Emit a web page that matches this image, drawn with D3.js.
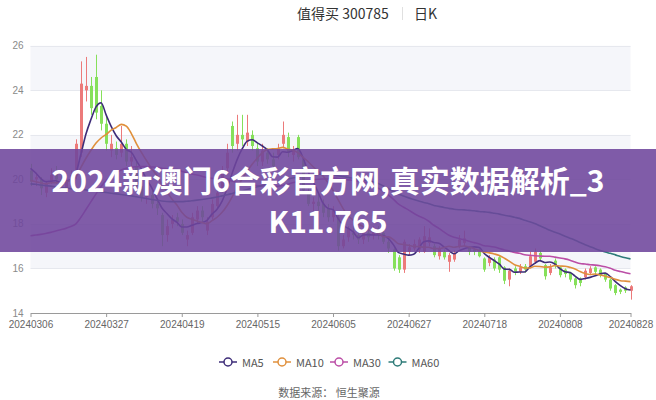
<!DOCTYPE html>
<html><head><meta charset="utf-8">
<script src="https://cdn.jsdelivr.net/npm/d3@7/dist/d3.min.js"></script>
<style>
html,body{margin:0;padding:0;background:#fff;}
svg{display:block;font-family:"Noto Sans CJK SC","Noto Sans",sans-serif;}
</style></head><body>
<svg id="chart" width="656" height="400"></svg>
<script>
const dates = ["20240306","20240307","20240308","20240311","20240312","20240313","20240314","20240315","20240318","20240319","20240320","20240321","20240322","20240325","20240326","20240327","20240328","20240329","20240401","20240402","20240403","20240408","20240409","20240410","20240411","20240412","20240415","20240416","20240417","20240418","20240419","20240422","20240423","20240424","20240425","20240426","20240429","20240430","20240506","20240507","20240508","20240509","20240510","20240513","20240514","20240515","20240516","20240517","20240520","20240521","20240522","20240523","20240524","20240527","20240528","20240529","20240530","20240531","20240603","20240604","20240605","20240606","20240607","20240611","20240612","20240613","20240614","20240617","20240618","20240619","20240620","20240621","20240624","20240625","20240626","20240627","20240628","20240701","20240702","20240703","20240704","20240705","20240708","20240709","20240710","20240711","20240712","20240715","20240716","20240717","20240718","20240719","20240722","20240723","20240724","20240725","20240726","20240729","20240730","20240731","20240801","20240802","20240805","20240806","20240807","20240808","20240809","20240812","20240813","20240814","20240815","20240816","20240819","20240820","20240821","20240822","20240823","20240826","20240827","20240828"];
const xTicks = ["20240306","20240327","20240419","20240515","20240605","20240627","20240718","20240808","20240828"];
const yTicks = [14,16,18,20,22,24,26];

const open = [20.4,20.0,20.0,19.4,19.9,20.3,20.0,19.6,19.9,20.2, 21.2,24.0,24.2,24.6,23.3,22.5,21.3,21.4,21.2,21.6, 20.8,20.6,19.7,19.2,19.3,18.9,18.4,17.5,18.0,18.3, 18.0,17.3,17.6,18.2,18.6,17.7,18.3,18.8,19.6,20.5, 22.4,21.6,22.0,21.7,22.0,21.4,20.8,21.2,20.9,21.1, 21.6,21.9,21.1,21.9,20.9,19.4,18.9,19.0,18.9,18.7, 18.3,18.3,17.0,17.4,17.6,17.5,17.3,17.6,17.5,17.8, 17.6,17.2,16.85,16.5,15.95,16.75,16.9,16.85,16.75,17.15, 17.0,16.55,16.75,16.3,16.4,17.0,17.15,16.95,16.85,16.85, 16.45,16.25,16.4,16.5,16.05,15.5,16.0,15.85,16.1,16.1, 16.3,16.7,16.15,15.8,16.35,16.05,15.95,15.8,15.55,15.55, 15.6,15.8,16.05,15.95,15.75,15.5,15.25,15.05,15.15,15.0];
const close = [19.9,20.1,19.6,19.8,20.2,20.0,19.7,19.9,20.2,21.6, 24.3,24.2,23.2,23.0,22.5,21.6,21.6,21.1,21.6,20.8, 21.0,19.7,19.2,19.4,18.9,18.7,17.5,17.9,18.2,18.1, 17.6,17.5,18.3,18.6,18.3,18.1,18.9,19.4,20.4,21.2, 21.5,22.0,21.8,22.1,21.5,20.8,21.3,20.9,20.6,21.4, 22.0,21.2,21.3,21.0,19.5,18.9,19.0,18.8,18.5,18.3, 18.6,17.0,17.3,17.8,17.5,17.3,17.6,17.4,17.7,17.5, 17.2,16.9,16.0,15.95,17.2,16.95,17.1,17.3,17.45,17.4, 16.6,16.9,16.5,16.6,16.7,17.3,17.35,16.75,16.75,16.55, 15.95,16.5,16.0,15.95,15.45,15.9,15.85,16.05,15.95,16.55, 16.75,16.45,15.65,16.05,16.1,15.7,15.75,15.5,15.25,15.35, 15.9,16.0,15.85,15.7,15.5,15.1,14.9,14.95,15.0,15.2];
const high = [20.7,20.3,20.1,19.9,20.5,20.6,20.2,20.1,20.4,21.8, 25.3,25.5,24.6,25.6,24.0,22.8,22.0,21.7,22.4,21.8, 21.5,20.8,19.9,19.7,19.5,19.1,18.5,18.2,18.4,18.5, 18.2,17.7,18.5,18.8,18.8,18.3,19.1,19.6,20.6,21.6, 22.6,22.9,22.9,22.9,22.2,21.6,21.6,21.4,21.2,21.6, 22.6,22.1,21.5,22.0,21.0,19.6,19.2,19.3,19.1,18.9, 18.8,18.4,17.5,17.9,17.9,17.7,17.8,17.8,17.9,17.9, 17.7,17.3,16.9,16.6,17.3,17.1,17.3,17.4,17.9,17.8, 17.1,17.0,16.85,16.7,16.8,17.5,17.7,17.0,16.9,16.9, 16.5,16.6,16.5,16.55,16.1,16.0,16.1,16.2,16.2,16.75, 16.9,16.8,16.2,16.2,16.45,16.1,16.0,15.85,15.6,15.6, 16.0,16.1,16.1,16.0,15.8,15.55,15.3,15.1,15.2,15.25];
const low = [19.7,19.7,19.3,19.2,19.8,19.8,19.5,19.4,19.7,20.0, 21.0,23.5,22.9,22.7,22.2,21.3,21.0,20.9,21.0,20.6, 20.5,19.5,19.0,18.9,18.7,18.4,17.0,17.2,17.8,17.9, 17.5,17.0,17.5,18.0,18.1,17.5,18.2,18.7,19.4,20.3, 21.2,21.3,21.5,21.5,21.3,20.6,20.6,20.7,20.4,20.9, 21.4,21.0,20.8,20.9,19.4,18.8,18.5,18.6,18.3,18.1, 18.1,16.8,16.9,17.2,17.3,17.1,17.1,17.2,17.3,17.3, 17.1,16.7,15.9,15.8,15.8,16.6,16.8,16.7,16.7,17.0, 16.5,16.4,16.4,15.85,16.3,16.9,17.0,16.6,16.6,16.5, 15.85,16.1,15.9,15.8,15.3,15.2,15.7,15.75,15.8,16.0, 16.2,16.35,15.5,15.7,16.0,15.6,15.6,15.4,15.1,15.2, 15.5,15.7,15.7,15.6,15.4,15.0,14.8,14.85,14.9,14.6];

const ma5 = [20.5,20.3,20.05,19.9,19.92,19.94,19.86,19.92,20.0,20.28, 21.14,22.04,22.7,23.26,23.44,22.9,22.38,21.96,21.68,21.34, 21.22,20.84,20.46,20.02,19.64,19.18,18.74,18.48,18.24,18.08, 17.86,17.86,17.94,18.02,18.06,18.16,18.44,18.66,19.02,19.6, 20.28,20.9,21.38,21.72,21.78,21.64,21.5,21.32,21.02,21.0, 21.24,21.22,21.3,21.38,21.0,20.38,19.94,19.44,18.94,18.7, 18.64,18.24,17.94,17.8,17.64,17.38,17.5,17.52,17.5,17.5, 17.48,17.34,17.06,16.71,16.65,16.6,16.64,16.9,17.2,17.24, 17.17,17.13,16.97,16.8,16.66,16.8,16.89,16.94,16.97,16.94, 16.67,16.5,16.35,16.19,15.97,15.96,15.83,15.84,15.84,16.06, 16.23,16.35,16.27,16.29,16.2,15.99,15.85,15.82,15.66,15.51, 15.55,15.6,15.67,15.76,15.79,15.63,15.41,15.23,15.09,15.03];
const ma10 = [19.95,19.9,19.85,19.8,19.85,19.85,19.85,19.9,19.95,20.1, 20.54,20.95,21.31,21.63,21.86,22.02,22.21,22.33,22.47,22.39, 22.06,21.61,21.21,20.85,20.49,20.2,19.79,19.47,19.13,18.86, 18.52,18.3,18.21,18.13,18.07,18.01,18.15,18.3,18.52,18.83, 19.22,19.67,20.02,20.37,20.69,20.96,21.2,21.35,21.37,21.39, 21.44,21.36,21.31,21.2,21.0,20.81,20.58,20.37,20.16,19.85, 19.51,19.09,18.69,18.37,18.17,18.01,17.87,17.73,17.65,17.57, 17.43,17.42,17.29,17.11,17.08,17.04,16.99,16.98,16.96,16.95, 16.89,16.89,16.94,17.0,16.95,16.99,17.01,16.96,16.89,16.8, 16.74,16.7,16.65,16.58,16.46,16.32,16.17,16.1,16.02,16.02, 16.1,16.09,16.06,16.07,16.13,16.11,16.1,16.05,15.98,15.86, 15.77,15.73,15.75,15.71,15.65,15.59,15.51,15.45,15.43,15.41];
const ma30 = [17.47,17.5,17.53,17.57,17.62,17.68,17.74,17.8,17.88,18.0, 18.3,18.65,19.0,19.35,19.68,19.95,20.15,20.3,20.42,20.5, 20.55,20.57,20.58,20.58,20.56,20.54,20.5,20.48,20.46,20.45, 20.37,20.29,20.24,20.2,20.14,20.08,20.05,20.03,20.04,20.03, 19.93,19.86,19.81,19.78,19.75,19.72,19.71,19.71,19.67,19.69, 19.73,19.78,19.85,19.9,19.92,19.93,19.98,20.01,20.02,20.02, 20.06,20.04,20.01,19.98,19.95,19.93,19.88,19.82,19.73,19.6, 19.46,19.29,19.1,18.89,18.75,18.62,18.48,18.36,18.26,18.12, 17.94,17.8,17.64,17.49,17.4,17.35,17.29,17.22,17.16,17.1, 17.02,17.0,16.96,16.9,16.83,16.78,16.72,16.68,16.62,16.59, 16.57,16.56,16.55,16.55,16.51,16.47,16.43,16.37,16.29,16.22, 16.2,16.17,16.15,16.12,16.08,16.01,15.92,15.86,15.81,15.76];
const ma60 = [19.8,19.78,19.75,19.72,19.7,19.67,19.64,19.61,19.58,19.56, 19.55,19.53,19.5,19.47,19.44,19.41,19.38,19.35,19.32,19.29, 19.26,19.22,19.18,19.14,19.1,19.06,19.03,19.01,19.0,19.0, 19.0,19.02,19.04,19.07,19.1,19.13,19.17,19.21,19.26,19.31, 19.37,19.43,19.49,19.55,19.61,19.67,19.73,19.79,19.85,19.9, 19.96,20.01,20.06,20.1,20.14,20.17,20.2,20.22,20.24,20.24, 20.22,20.16,20.13,20.09,20.05,20.0,19.97,19.93,19.88,19.82, 19.7,19.58,19.46,19.34,19.25,19.17,19.1,19.03,18.96,18.91, 18.83,18.79,18.74,18.7,18.66,18.64,18.63,18.61,18.59,18.56, 18.54,18.52,18.48,18.44,18.39,18.35,18.3,18.25,18.17,18.1, 18.02,17.92,17.82,17.72,17.63,17.55,17.45,17.36,17.27,17.17, 17.07,16.98,16.89,16.81,16.74,16.68,16.61,16.54,16.48,16.43];

const maNames = ["MA5","MA10","MA30","MA60"];
const maSeries = [ma5, ma10, ma30, ma60];
const maColors = ["#3d2c78","#e0903c","#bb4ea6","#2e7b78"];
const titleName = "值得买 300785";
const titlePeriod = "日K";
const bannerLines = ["2024新澳门6合彩官方网,真实数据解析_3", "K11.765"];
const sourceText = "数据来源：  恒生聚源";

const upColor = "#ec7a7a", downColor = "#86e05a";
const axisFont = "'Liberation Sans', Arial, sans-serif";

const svg = d3.select("#chart");
const x = d3.scalePoint().domain(dates).range([30.5, 630.5]);
const y = d3.scaleLinear().domain([14, 26]).range([313, 45.8]);

// alternating bands
const bandPairs = d3.pairs(yTicks).filter((p, i) => i % 2 === 1);
svg.append("g").selectAll("rect").data(bandPairs).join("rect")
  .attr("x", 30.5).attr("width", 600)
  .attr("y", d => y(d[1])).attr("height", d => y(d[0]) - y(d[1]))
  .attr("fill", "#f5f6fa");

// grid lines
svg.append("g").selectAll("line").data(yTicks.slice(1)).join("line")
  .attr("x1", 30.5).attr("x2", 630.5)
  .attr("y1", d => Math.round(y(d)) + 0.5).attr("y2", d => Math.round(y(d)) + 0.5)
  .attr("stroke", "#e6e8ee").attr("stroke-width", 1);

// y axis labels
const yAxis = svg.append("g").attr("transform", "translate(30.5,0)")
  .call(d3.axisLeft(y).tickValues(yTicks).tickSize(0).tickPadding(7).tickFormat(d3.format("d")));
yAxis.select(".domain").remove();
yAxis.selectAll("text").attr("fill", "#8a8a8a").style("font-size", "10px")
  .style("font-family", axisFont).attr("dy", "0.3em");

// candles
const idx = d3.range(dates.length);
const cg = svg.append("g");
cg.selectAll("line").data(idx).join("line")
  .attr("x1", i => Math.round(x(dates[i])) + 0.5).attr("x2", i => Math.round(x(dates[i])) + 0.5)
  .attr("y1", i => y(high[i])).attr("y2", i => y(low[i]))
  .attr("stroke", i => close[i] >= open[i] ? upColor : downColor).attr("stroke-width", 1);
cg.selectAll("rect").data(idx).join("rect")
  .attr("x", i => Math.round(x(dates[i])) - 1)
  .attr("width", 3)
  .attr("y", i => y(Math.max(open[i], close[i])))
  .attr("height", i => Math.max(1, Math.abs(y(open[i]) - y(close[i]))))
  .attr("fill", i => close[i] >= open[i] ? upColor : downColor);

// MA lines
const line = d3.line().x((d, i) => x(dates[i])).y(d => y(d)).curve(d3.curveMonotoneX);
svg.append("g").selectAll("path").data(maSeries).join("path")
  .attr("d", d => line(d)).attr("fill", "none")
  .attr("stroke", (d, i) => maColors[i]).attr("stroke-width", 1.6);

// x axis
const xAxis = svg.append("g").attr("transform", "translate(0,313)")
  .call(d3.axisBottom(x).tickValues(xTicks).tickSize(4).tickSizeOuter(0).tickPadding(4));
xAxis.select(".domain").attr("stroke", "#9a9a9a");
xAxis.selectAll(".tick line").attr("stroke", "#9a9a9a");
xAxis.selectAll("text").attr("fill", "#666").style("font-size", "10px")
  .style("font-family", axisFont);

// title
const tg = svg.append("g").style("font-size", "14px").attr("fill", "#333");
tg.append("text").attr("x", 297).attr("y", 13).attr("dominant-baseline", "central").text(titleName);
tg.append("line").attr("x1", 402.5).attr("x2", 402.5).attr("y1", 7).attr("y2", 20).attr("stroke", "#e0e0e0");
tg.append("text").attr("x", 414).attr("y", 13).attr("dominant-baseline", "central").text(titlePeriod);

// legend
const legX = [228, 282, 339, 397.5];
const lg = svg.append("g").selectAll("g").data(maNames).join("g")
  .attr("transform", (d, i) => `translate(${legX[i]},362)`);
lg.append("line").attr("x1", -9).attr("x2", 9).attr("stroke", (d, i) => maColors[i]).attr("stroke-width", 1.5);
lg.append("circle").attr("r", 4).attr("fill", "#fff").attr("stroke", (d, i) => maColors[i]).attr("stroke-width", 1.5);
lg.append("text").attr("x", 14).attr("dominant-baseline", "central")
  .style("font-size", "11px").attr("fill", "#555").text(d => d);

// source
svg.append("text").attr("x", 329).attr("y", 392).attr("text-anchor", "middle")
  .attr("dominant-baseline", "central").style("font-size", "11px").attr("fill", "#666").text(sourceText);

// banner overlay
svg.append("rect").attr("x", 0).attr("y", 149).attr("width", 656).attr("height", 103)
  .attr("fill", "rgb(110,70,156)").attr("fill-opacity", 0.88);
svg.append("g").selectAll("text").data(bannerLines).join("text")
  .attr("x", 328).attr("y", (d, i) => 179 + i * 41)
  .attr("text-anchor", "middle").attr("dominant-baseline", "central")
  .style("font-size", "30px").style("font-weight", "700").attr("fill", "#fff")
  .text(d => d);
</script>
</body></html>
